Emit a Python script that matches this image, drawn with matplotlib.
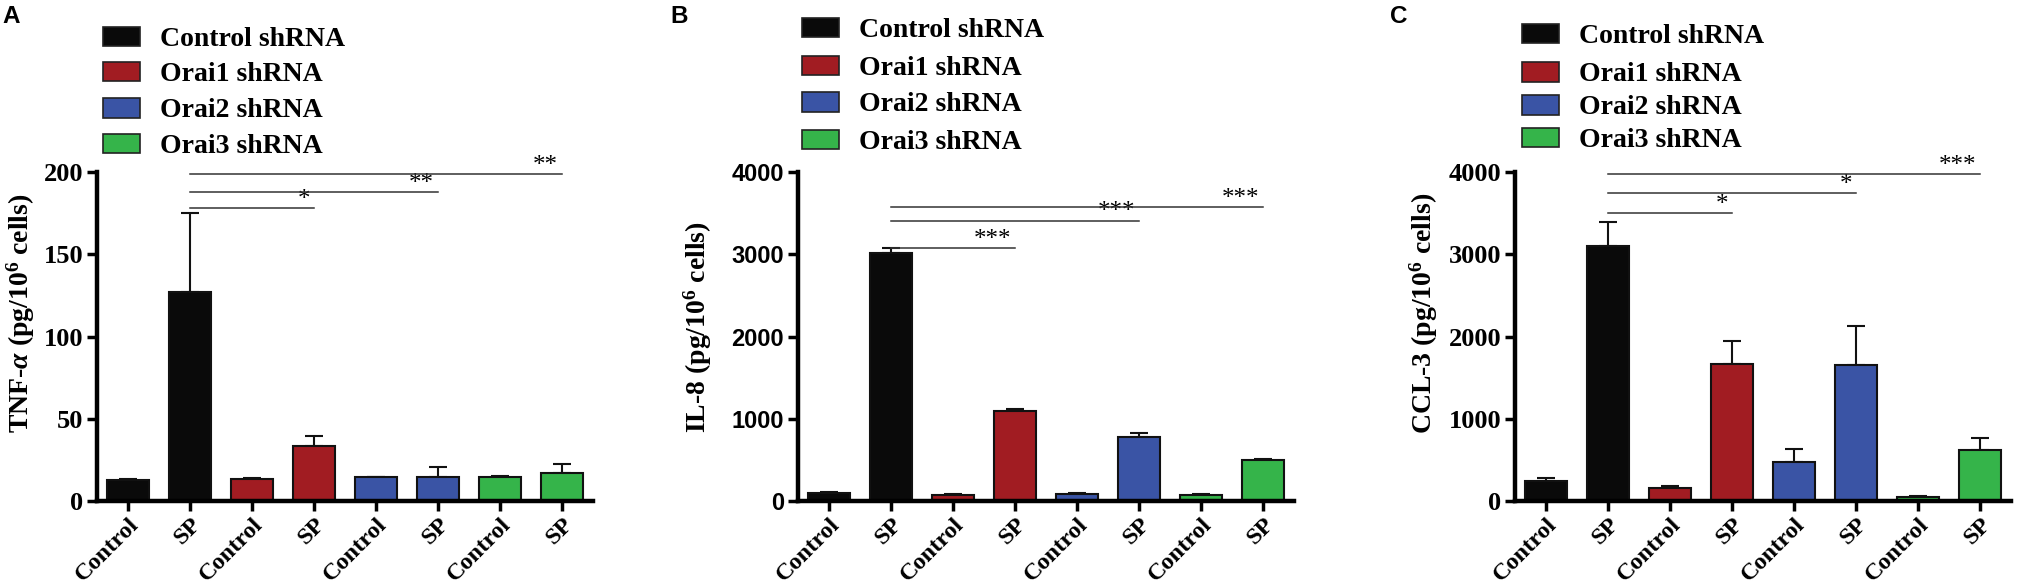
import matplotlib
matplotlib.use('Agg')
import matplotlib.pyplot as plt
from matplotlib.patches import Rectangle
import numpy as np

plt.rcParams['font.family'] = ['Liberation Serif', 'DejaVu Serif']
plt.rcParams['font.weight'] = 'bold'
plt.rcParams['axes.labelweight'] = 'bold'
plt.rcParams['mathtext.fontset'] = 'custom'
plt.rcParams['mathtext.rm'] = 'Liberation Serif:bold'
plt.rcParams['mathtext.it'] = 'Liberation Serif:italic:bold'
plt.rcParams['mathtext.bf'] = 'Liberation Serif:bold'

W, H = 2017, 586

# data
groups = ['Control shRNA', 'Orai1 shRNA', 'Orai2 shRNA', 'Orai3 shRNA']
conditions = ['Control', 'SP']
colors = ['#0a0a0a', '#a11c22', '#3a54a5', '#35b44a']

tnf_mean = [12.5, 127, 13.2, 33.6, 14.3, 14.3, 14.7, 16.8]
tnf_err = [1.1, 48, 0.6, 6.1, 0.5, 6.1, 0.5, 5.9]
il8_mean = [93, 3012, 70, 1090, 80, 778, 72, 495]
il8_err = [20, 68, 16, 33, 16, 45, 15, 15]
ccl3_mean = [242, 3095, 162, 1661, 477, 1650, 53, 618]
ccl3_err = [41, 300, 24, 282, 153, 475, 8, 150]

# (from bar, to bar, height, stars)
tnf_sig = [(1, 3, 178, '*'), (1, 5, 188, '**'), (1, 7, 199, '**')]
il8_sig = [(1, 3, 3080, '***'), (1, 5, 3410, '***'), (1, 7, 3570, '***')]
ccl3_sig = [(1, 3, 3505, '*'), (1, 5, 3745, '*'), (1, 7, 3972, '***')]

fig = plt.figure(figsize=(W / 100, H / 100), dpi=100)


def fx(px):
    return px / W


def fy(py):
    return 1 - py / H


def panel(left, means, errs, ymax, ystep, ylabel, sig, sans_ticks, lab_x, lab_y):
    ax = fig.add_axes([fx(left), fy(501), 496 / W, 329 / H])
    x = np.arange(len(means))
    bar_colors = [colors[i // 2] for i in x]
    ax.bar(x, means, width=0.67, color=bar_colors, edgecolor='#111111',
           linewidth=1.5, zorder=2)
    ax.errorbar(x, means, yerr=[np.zeros(len(x)), errs], fmt='none',
                ecolor='#111111', elinewidth=1.5, capsize=6.8, capthick=1.5,
                zorder=1)

    for a, b, y, stars in sig:
        ax.plot([a, b], [y, y], color='#333333', lw=1.1, clip_on=False, zorder=3)
        ax.annotate(stars, xy=(b, y), xytext=(-3, 1.5), textcoords='offset points',
                    ha='right', va='baseline', fontsize=18, fontweight='normal',
                    annotation_clip=False)

    ax.set_xlim(-0.5, 7.5)
    ax.set_ylim(0, ymax)
    ax.set_yticks(np.arange(0, ymax + 1, ystep))
    ax.set_xticks(x)
    ax.set_xticklabels(conditions * 4, rotation=45, ha='right', va='top',
                       rotation_mode='anchor', fontsize=17.5, fontweight='bold')
    for sp in ['top', 'right']:
        ax.spines[sp].set_visible(False)
    for sp in ['left', 'bottom']:
        ax.spines[sp].set_linewidth(3.2)
    ax.tick_params(axis='both', length=7, width=2.5, direction='out')
    ax.tick_params(axis='x', pad=2)
    ax.tick_params(axis='y', pad=3)
    for t in ax.get_yticklabels():
        if sans_ticks:
            t.set_fontfamily('Liberation Sans')
            t.set_fontsize(17)
        else:
            t.set_fontsize(19)
        t.set_fontweight('bold')
    ax.set_ylabel(ylabel, fontsize=20, fontweight='bold')
    ax.yaxis.set_label_coords(lab_x, lab_y)
    return ax


panel(97, tnf_mean, tnf_err, 200, 50, r'TNF-$\alpha$ (pg/10$^{6}$ cells)', tnf_sig,
      False, -0.121, 0.571)
panel(798, il8_mean, il8_err, 4000, 1000, r'IL-8 (pg/10$^{6}$ cells)', il8_sig,
      True, -0.169, 0.53)
panel(1515, ccl3_mean, ccl3_err, 4000, 1000, r'CCL-3 (pg/10$^{6}$ cells)', ccl3_sig,
      False, -0.151, 0.57)

# legends drawn by hand, one per panel: patch left edge and row centres (pixels)
legend_layout = [
    (103, [36.5, 71.5, 108, 143.5]),
    (802, [27.5, 65.5, 102, 139.5]),
    (1522, [33.5, 72, 105, 137.5]),
]
for lx, rows in legend_layout:
    for yc, g, c in zip(rows, groups, colors):
        fig.add_artist(Rectangle((fx(lx), fy(yc + 9.5)), 37 / W, 19 / H,
                                 transform=fig.transFigure, facecolor=c,
                                 edgecolor='#222222', linewidth=1.2))
        fig.text(fx(lx + 57), fy(yc + 9.3), g, fontsize=20, va='baseline', ha='left')

for letter, lx in [('A', 2), ('B', 670), ('C', 1390)]:
    fig.text(fx(lx), fy(5), letter, family='Liberation Sans', fontweight='bold',
             fontsize=17.5, va='top', ha='left')

fig.savefig('out.png', dpi=100)
